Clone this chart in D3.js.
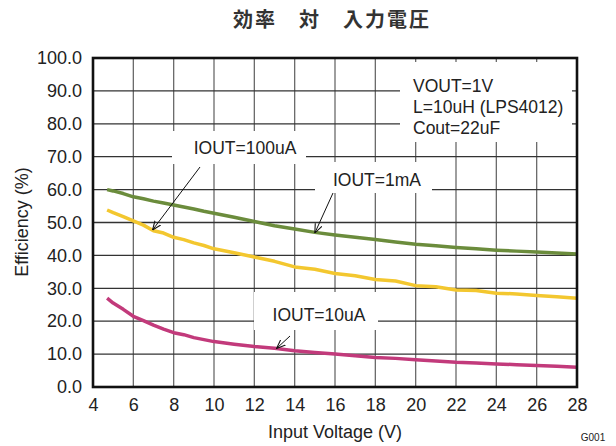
<!DOCTYPE html>
<html><head><meta charset="utf-8">
<script src="https://cdn.jsdelivr.net/npm/d3@7"></script>
<style>body{margin:0;background:#fff}svg{display:block}text{font-family:"Liberation Sans",Arial,sans-serif;fill:#222}</style>
</head><body><svg id="c" width="616" height="446"></svg>
<script>
const xTicks = [4,6,8,10,12,14,16,18,20,22,24,26,28];
const yTicks = [0,10,20,30,40,50,60,70,80,90,100];
const voltage = [4.7,5,5.5,6,6.5,7,7.5,8,8.5,9,9.5,10,11,12,13,14,15,16,17,18,19,20,21,22,23,24,25,26,27,28];
const eff1mA   = [60,59.6,58.8,57.8,57.2,56.5,55.9,55.3,54.7,54.1,53.4,52.8,51.6,50.3,49.0,48.0,47.0,46.2,45.5,44.8,44.1,43.4,42.9,42.4,42.0,41.6,41.3,41.0,40.7,40.4];
const eff100uA = [53.8,53.0,51.8,50.5,49.2,47.5,46.8,45.5,44.8,43.8,43.0,42.0,40.8,39.5,38.2,36.5,35.8,34.5,33.8,32.7,32.2,30.8,30.5,29.5,29.3,28.5,28.3,27.8,27.4,27.0];
const eff10uA  = [27,25.5,23.6,21.5,20.2,18.8,17.6,16.5,15.9,15.0,14.4,13.8,13.0,12.3,11.8,11.0,10.5,10.0,9.5,9.0,8.7,8.3,7.9,7.5,7.3,7.0,6.8,6.5,6.3,6.0];
const seriesNames = ["IOUT=1mA","IOUT=100uA","IOUT=10uA"];
const colors = ["#6b8c3c","#f3c72f","#c23a7b"];

const svg = d3.select("#c");
const L=93,R=577,T=58,B=387;
const x = d3.scaleLinear().domain([4,28]).range([L,R]);
const y = d3.scaleLinear().domain([0,100]).range([B,T]);

svg.append("text").attr("x",332).attr("y",27).attr("text-anchor","middle")
  .style("font-family","'Noto Sans CJK JP',sans-serif").style("font-weight","bold").style("font-size","20px")
  .style("letter-spacing","2px").style("fill","#333")
  .text("効率　対　入力電圧");

// grid
const g = svg.append("g");
g.selectAll(".vx").data(xTicks.slice(1,-1)).join("line")
  .attr("x1",d=>x(d)).attr("x2",d=>x(d)).attr("y1",T).attr("y2",B)
  .attr("stroke","#6a6a6a").attr("stroke-width",1.3);
g.selectAll(".hy").data(yTicks.slice(1,-1)).join("line")
  .attr("x1",L).attr("x2",R).attr("y1",d=>y(d)).attr("y2",d=>y(d))
  .attr("stroke","#333").attr("stroke-width",1.3);

// axes (labels)
const xa = svg.append("g").attr("transform",`translate(0,${B})`)
  .call(d3.axisBottom(x).tickValues(xTicks).tickSize(0).tickPadding(11).tickFormat(d3.format("d")));
xa.select(".domain").remove();
xa.selectAll("text").style("font-size","18px").style("font-family","'Liberation Sans',Arial,sans-serif").attr("fill","#222");
const ya = svg.append("g").attr("transform",`translate(${L},0)`)
  .call(d3.axisLeft(y).tickValues(yTicks).tickSize(0).tickPadding(11).tickFormat(d3.format(".1f")));
ya.select(".domain").remove();
ya.selectAll("text").style("font-size","18px").style("font-family","'Liberation Sans',Arial,sans-serif").attr("fill","#222");

// label boxes (white, cover grid)
const boxes = [
  {x:400,y:62,w:172,h:80},
  {x:172,y:131,w:134,h:33},
  {x:315,y:162,w:117,h:31},
  {x:254,y:292,w:124,h:38}
];
svg.append("g").selectAll("rect").data(boxes).join("rect")
  .attr("x",d=>d.x).attr("y",d=>d.y).attr("width",d=>d.w).attr("height",d=>d.h).attr("fill","#fff");

// lines
const line = d3.line().x((d,i)=>x(voltage[i])).y(d=>y(d)).curve(d3.curveLinear);
[eff1mA,eff100uA,eff10uA].forEach((s,i)=>{
  svg.append("path").datum(s).attr("d",line).attr("fill","none")
    .attr("stroke",colors[i]).attr("stroke-width",3.5).attr("stroke-linejoin","round");
});

// frame
svg.append("rect").attr("x",L).attr("y",T).attr("width",R-L).attr("height",B-T)
  .attr("fill","none").attr("stroke","#111").attr("stroke-width",2.6);

// text annotations
const info = ["VOUT=1V","L=10uH (LPS4012)","Cout=22uF"];
svg.append("g").selectAll("text").data(info).join("text")
  .attr("x",413).attr("y",(d,i)=>92+i*21).style("font-size","17.5px").text(d=>d);
const labels = [
  {t:seriesNames[1],x:245,y:154},
  {t:seriesNames[0],x:377,y:186},
  {t:seriesNames[2],x:319,y:321}
];
svg.append("g").selectAll("text").data(labels).join("text")
  .attr("x",d=>d.x).attr("y",d=>d.y).attr("text-anchor","middle").style("font-size","17.5px").text(d=>d.t);

// arrows
const defs = svg.append("defs");
defs.append("marker").attr("id","ah").attr("viewBox","0 0 10 10").attr("refX",10).attr("refY",5)
  .attr("markerWidth",9).attr("markerHeight",9).attr("orient","auto-start-reverse")
  .append("path").attr("d","M0,1 L10,5 L0,9").attr("fill","none").attr("stroke","#111").attr("stroke-width",1.2);
const arrows = [
  {x1:200,y1:167,vx:6.95,vy:47.7},
  {x1:333,y1:193,vx:15.0,vy:46.8},
  {x1:290,y1:336,vx:13.1,vy:11.7}
];
svg.append("g").selectAll("line").data(arrows).join("line")
  .attr("x1",d=>d.x1).attr("y1",d=>d.y1).attr("x2",d=>x(d.vx)).attr("y2",d=>y(d.vy))
  .attr("stroke","#111").attr("stroke-width",1).attr("marker-end","url(#ah)");

// axis titles
svg.append("text").attr("x",335).attr("y",438).attr("text-anchor","middle").style("font-size","18px").text("Input Voltage (V)");
svg.append("text").attr("transform","translate(28,222) rotate(-90)").attr("text-anchor","middle").style("font-size","18px").text("Efficiency (%)");
svg.append("text").attr("x",593).attr("y",441).attr("text-anchor","middle").style("font-size","10px").text("G001");
</script></body></html>
